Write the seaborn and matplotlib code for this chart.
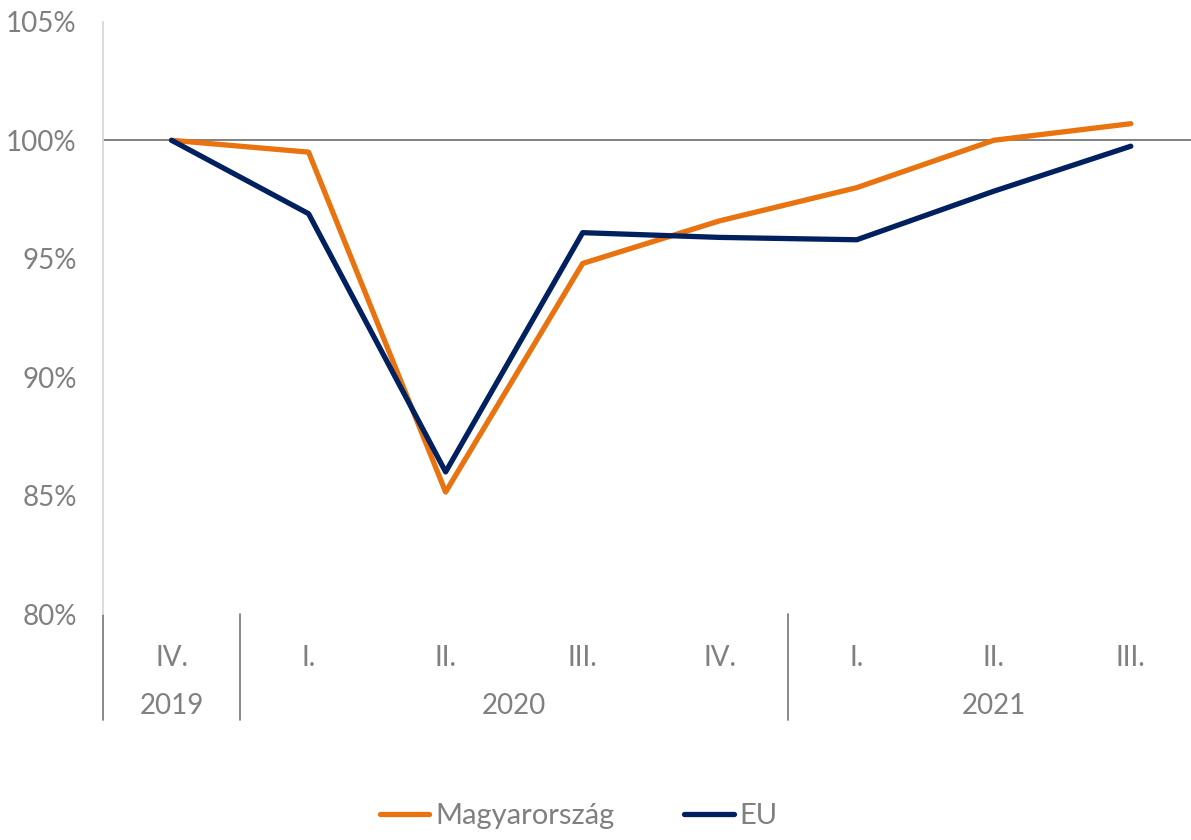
import matplotlib.pyplot as plt
import pandas as pd
import seaborn as sns

quarters = ['IV.', 'I.', 'II.', 'III.', 'IV.', 'I.', 'II.', 'III.']
years = ['2019', '2020', '2021']
year_spans = [(0, 0), (1, 4), (5, 7)]
hungary = [100.0, 99.5, 85.15, 94.8, 96.6, 98.0, 100.0, 100.7]
eu = [100.0, 96.9, 86.0, 96.1, 95.9, 95.8, 97.85, 99.75]

df = pd.DataFrame({
    'pos': list(range(len(quarters))) * 2,
    'value': hungary + eu,
    'series': ['Magyarország'] * len(hungary) + ['EU'] * len(eu),
})

sns.set_style('white')
plt.rcParams['font.family'] = ['Lato', 'DejaVu Sans']
grey = '#808080'

fig = plt.figure(figsize=(11.91, 8.4), dpi=100)
ax = fig.add_axes([0.0865, 0.269, 0.9205, 0.705])

ax.axhline(100, color=grey, lw=1.4, zorder=1)
sns.lineplot(data=df, x='pos', y='value', hue='series', ax=ax,
             palette={'Magyarország': '#E8730F', 'EU': '#00205F'},
             linewidth=3.8, solid_capstyle='round', legend=True, zorder=3)

ax.set_xlim(-0.5, 7.5)
ax.set_ylim(80, 105)
ax.set_yticks(range(80, 106, 5))
ax.set_yticklabels([f'{v}%' for v in range(80, 106, 5)])
ax.tick_params(axis='y', colors=grey, labelsize=20, length=0, pad=19)
ax.set_xticks(range(len(quarters)))
ax.set_xticklabels(quarters)
ax.tick_params(axis='x', colors=grey, labelsize=20, length=0, pad=22)
ax.set_xlabel('')
ax.set_ylabel('')

for s in ['top', 'right', 'bottom']:
    ax.spines[s].set_visible(False)
ax.spines['left'].set_color('#d9d9d9')
ax.spines['left'].set_linewidth(1.3)

trans = ax.get_xaxis_transform()
for xs in [-0.5, 0.5, 4.5]:
    ax.plot([xs, xs], [0, -0.179], transform=trans, color=grey, lw=1.3, clip_on=False)
for label, (a, b) in zip(years, year_spans):
    ax.text((a + b) / 2, -0.155, label, transform=trans, ha='center', va='center',
            color=grey, fontsize=20)

handles, labels = ax.get_legend_handles_labels()
ax.get_legend().remove()
fig.legend(handles, labels, loc='lower center', bbox_to_anchor=(0.486, -0.018), ncol=2,
           frameon=False, fontsize=21, labelcolor=grey, handlelength=1.7,
           handletextpad=0.2, columnspacing=2.4)

fig.savefig('out.png', dpi=100)
